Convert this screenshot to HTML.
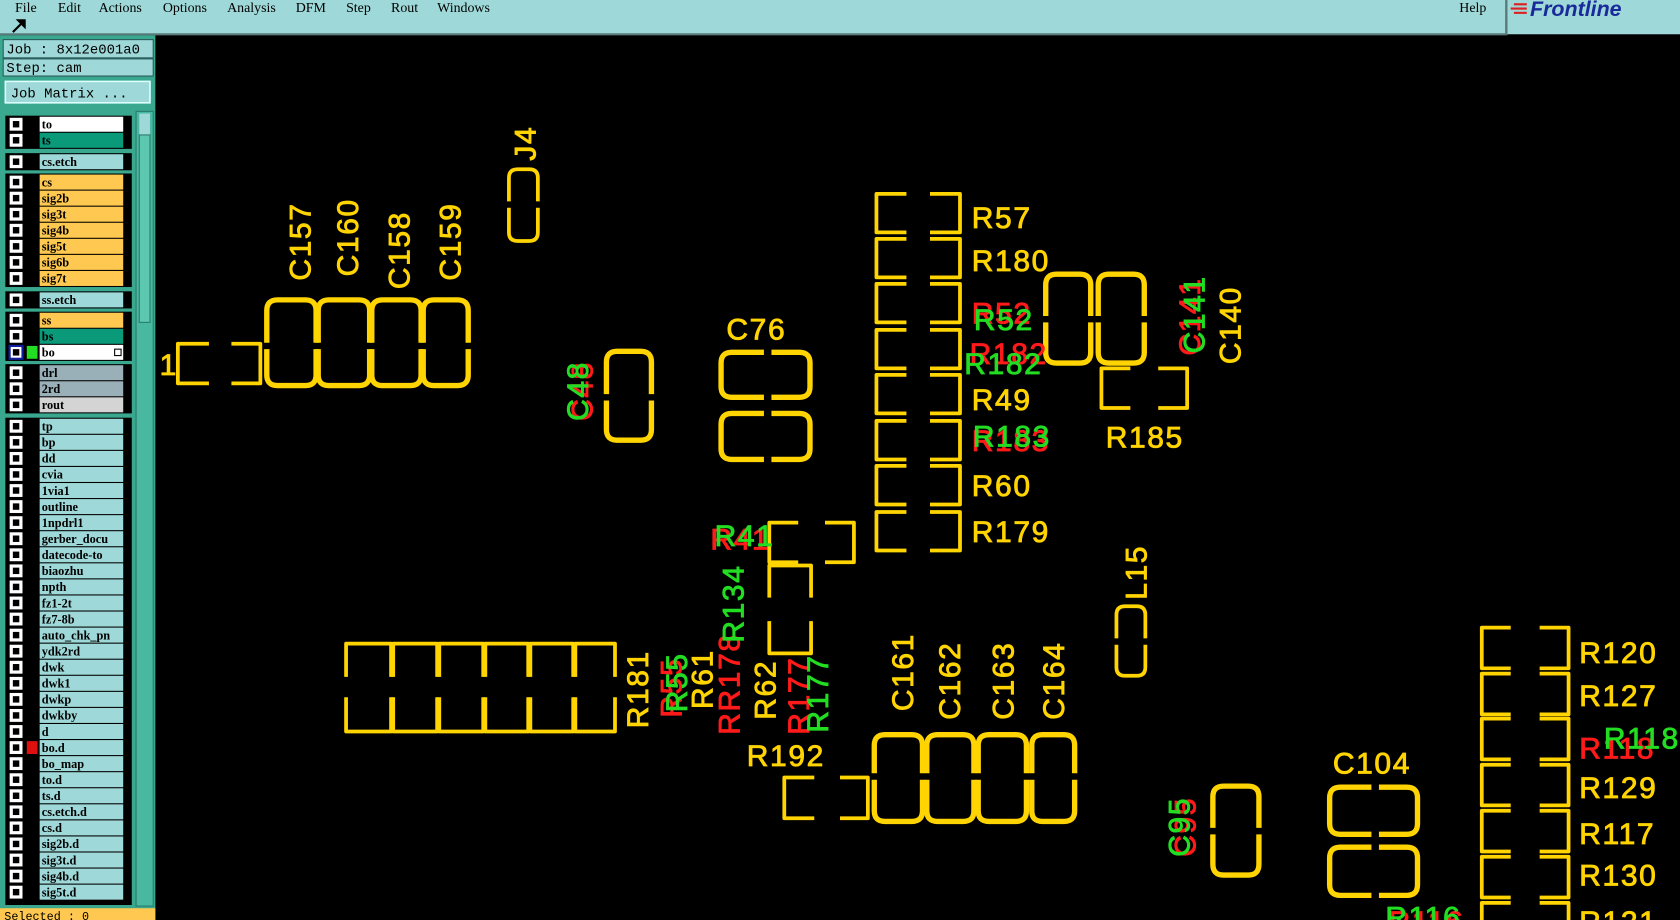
<!DOCTYPE html>
<html><head><meta charset="utf-8"><style>
html,body{margin:0;padding:0;background:#000;overflow:hidden}
svg{display:block}
.y{fill:none;stroke:#ffd400;stroke-width:3.5;stroke-linejoin:round}
.c{fill:none;stroke:#ffd400;stroke-width:5;stroke-linejoin:round}
.t{font-family:"Liberation Sans",sans-serif;font-size:28px;letter-spacing:1.5px;stroke-width:0.8px}
.m{font-family:"Liberation Serif",serif;font-size:13px;fill:#000}
.l{font-family:"Liberation Serif",serif;font-size:11.5px;font-weight:bold;fill:#000}
.cb{fill:#fff}
.ci{fill:#000}
.lb{fill:#9ed8d8}
</style></head><body>
<svg width="1680" height="920" viewBox="0 0 1568 859" preserveAspectRatio="none" xmlns="http://www.w3.org/2000/svg">
<defs>
<g id="box"><rect x="9" y="-6" width="12" height="12" fill="#fff"/><rect x="12" y="-3" width="6" height="6" fill="#000"/></g>
</defs>
<rect width="1568" height="859" fill="#000"/>
<!-- menu -->
<rect x="0" y="0" width="1405" height="32" fill="#9ed8d8"/>
<line x1="0" y1="32" x2="1405" y2="32" stroke="#5a7a7a" stroke-width="2"/>
<rect x="1407" y="0" width="161" height="32" fill="#9ed8d8"/>
<line x1="1406" y1="0" x2="1406" y2="33" stroke="#5a7a7a" stroke-width="2"/>
<g class="m">
<text x="14" y="11">File</text><text x="54" y="11">Edit</text><text x="92" y="11">Actions</text><text x="152" y="11">Options</text><text x="212" y="11">Analysis</text><text x="276" y="11">DFM</text><text x="323" y="11">Step</text><text x="365" y="11">Rout</text><text x="408" y="11">Windows</text><text x="1362" y="11">Help</text>
</g>
<path d="M12 30 L22 20 M17 19 L23 19 L23 25 Z" stroke="#000" stroke-width="2" fill="#000"/>
<g fill="#e02020"><rect x="1413" y="3" width="12" height="2"/><rect x="1410" y="7" width="15" height="2"/><rect x="1413" y="11" width="12" height="2"/></g>
<text x="1428" y="15" font-family="Liberation Sans,sans-serif" font-size="20" font-weight="bold" font-style="italic" fill="#1a2a9a">Frontline</text>
<!-- left panel -->
<rect x="0" y="33" width="145" height="826" fill="#3aa88e"/>
<rect x="3" y="37" width="140" height="17" fill="#9ed8d8" stroke="#2a5a5a"/>
<rect x="3" y="55" width="140" height="16" fill="#9ed8d8" stroke="#2a5a5a"/>
<text x="6" y="50" font-family="Liberation Mono,monospace" font-size="13" fill="#000">Job : 8x12e001a0</text>
<text x="6" y="67" font-family="Liberation Mono,monospace" font-size="13" fill="#000">Step: cam</text>
<rect x="5" y="76" width="135" height="20" fill="#9ed8d8" stroke="#dff" stroke-width="1.5"/>
<text x="10" y="91" font-family="Liberation Mono,monospace" font-size="13" fill="#000">Job Matrix ...</text>
<rect x="127" y="104" width="16" height="742" fill="#48b8a0" stroke="#2a7a6a"/>
<rect x="130" y="106" width="10" height="20" fill="#9ed8d8"/>
<rect x="130" y="126" width="10" height="175" fill="#5cc8b0" stroke="#2a7a6a"/>
<g fill="#000">
<rect x="5" y="108" width="118" height="31"/><rect x="5" y="143" width="118" height="16"/><rect x="5" y="162" width="118" height="106"/><rect x="5" y="272" width="118" height="16"/><rect x="5" y="291" width="118" height="46"/><rect x="5" y="340" width="118" height="46"/><rect x="5" y="390" width="118" height="455"/>
</g>
<!-- upper rows -->
<use href="#box" y="116"/><use href="#box" y="131"/><use href="#box" y="151"/><use href="#box" y="170"/><use href="#box" y="185"/><use href="#box" y="200"/><use href="#box" y="215"/><use href="#box" y="230"/><use href="#box" y="245"/><use href="#box" y="260"/><use href="#box" y="280"/><use href="#box" y="299"/><use href="#box" y="314"/><use href="#box" y="348"/><use href="#box" y="363"/><use href="#box" y="378"/>
<rect x="9" y="323" width="12" height="12" fill="#fff" stroke="#1020a0" stroke-width="2"/><rect x="12" y="326" width="6" height="6" fill="#000"/>
<rect x="25" y="323" width="10" height="12" fill="#22dd22"/>
<g fill="#ffc850"><rect x="37" y="163" width="78" height="14"/><rect x="37" y="178" width="78" height="14"/><rect x="37" y="193" width="78" height="14"/><rect x="37" y="208" width="78" height="14"/><rect x="37" y="223" width="78" height="14"/><rect x="37" y="238" width="78" height="14"/><rect x="37" y="253" width="78" height="14"/><rect x="37" y="292" width="78" height="14"/></g>
<rect x="37" y="109" width="78" height="14" fill="#fff"/>
<rect x="37" y="124" width="78" height="14" fill="#0a9a7a"/>
<rect x="37" y="307" width="78" height="14" fill="#0a9a7a"/>
<rect x="37" y="322" width="78" height="14" fill="#fff"/>
<rect x="37" y="144" width="78" height="14" fill="#9ed8d8"/>
<rect x="37" y="273" width="78" height="14" fill="#9ed8d8"/>
<rect x="37" y="341" width="78" height="14" fill="#9ab0b8"/>
<rect x="37" y="356" width="78" height="14" fill="#9ab0b8"/>
<rect x="37" y="371" width="78" height="14" fill="#d4d4d4"/>
<g class="l">
<text x="39" y="120">to</text><text x="39" y="135">ts</text><text x="39" y="155">cs.etch</text><text x="39" y="174">cs</text><text x="39" y="189">sig2b</text><text x="39" y="204">sig3t</text><text x="39" y="219">sig4b</text><text x="39" y="234">sig5t</text><text x="39" y="249">sig6b</text><text x="39" y="264">sig7t</text><text x="39" y="284">ss.etch</text><text x="39" y="303">ss</text><text x="39" y="318">bs</text><text x="39" y="333">bo</text><text x="39" y="352">drl</text><text x="39" y="367">2rd</text><text x="39" y="382">rout</text>
</g>
<!-- lower rows -->
<g>
<use href="#box" y="398"/><use href="#box" y="413"/><use href="#box" y="428"/><use href="#box" y="443"/><use href="#box" y="458"/><use href="#box" y="473"/><use href="#box" y="488"/><use href="#box" y="503"/><use href="#box" y="518"/><use href="#box" y="533"/><use href="#box" y="548"/><use href="#box" y="563"/><use href="#box" y="578"/><use href="#box" y="593"/><use href="#box" y="608"/><use href="#box" y="623"/><use href="#box" y="638"/><use href="#box" y="653"/><use href="#box" y="668"/><use href="#box" y="683"/><use href="#box" y="698"/><use href="#box" y="713"/><use href="#box" y="728"/><use href="#box" y="743"/><use href="#box" y="758"/><use href="#box" y="773"/><use href="#box" y="788"/><use href="#box" y="803"/><use href="#box" y="818"/><use href="#box" y="833"/>
</g>
<g class="lb">
<rect x="37" y="391" width="78" height="14"/><rect x="37" y="406" width="78" height="14"/><rect x="37" y="421" width="78" height="14"/><rect x="37" y="436" width="78" height="14"/><rect x="37" y="451" width="78" height="14"/><rect x="37" y="466" width="78" height="14"/><rect x="37" y="481" width="78" height="14"/><rect x="37" y="496" width="78" height="14"/><rect x="37" y="511" width="78" height="14"/><rect x="37" y="526" width="78" height="14"/><rect x="37" y="541" width="78" height="14"/><rect x="37" y="556" width="78" height="14"/><rect x="37" y="571" width="78" height="14"/><rect x="37" y="586" width="78" height="14"/><rect x="37" y="601" width="78" height="14"/><rect x="37" y="616" width="78" height="14"/><rect x="37" y="631" width="78" height="14"/><rect x="37" y="646" width="78" height="14"/><rect x="37" y="661" width="78" height="14"/><rect x="37" y="676" width="78" height="14"/><rect x="37" y="691" width="78" height="14"/><rect x="37" y="706" width="78" height="14"/><rect x="37" y="721" width="78" height="14"/><rect x="37" y="736" width="78" height="14"/><rect x="37" y="751" width="78" height="14"/><rect x="37" y="766" width="78" height="14"/><rect x="37" y="781" width="78" height="14"/><rect x="37" y="796" width="78" height="14"/><rect x="37" y="811" width="78" height="14"/><rect x="37" y="826" width="78" height="14"/>
</g>
<rect x="25" y="692" width="10" height="12" fill="#e01010"/>
<g class="l">
<text x="39" y="402">tp</text><text x="39" y="417">bp</text><text x="39" y="432">dd</text><text x="39" y="447">cvia</text><text x="39" y="462">1via1</text><text x="39" y="477">outline</text><text x="39" y="492">1npdrl1</text><text x="39" y="507">gerber_docu</text><text x="39" y="522">datecode-to</text><text x="39" y="537">biaozhu</text><text x="39" y="552">npth</text><text x="39" y="567">fz1-2t</text><text x="39" y="582">fz7-8b</text><text x="39" y="597">auto_chk_pn</text><text x="39" y="612">ydk2rd</text><text x="39" y="627">dwk</text><text x="39" y="642">dwk1</text><text x="39" y="657">dwkp</text><text x="39" y="672">dwkby</text><text x="39" y="687">d</text><text x="39" y="702">bo.d</text><text x="39" y="717">bo_map</text><text x="39" y="732">to.d</text><text x="39" y="747">ts.d</text><text x="39" y="762">cs.etch.d</text><text x="39" y="777">cs.d</text><text x="39" y="792">sig2b.d</text><text x="39" y="807">sig3t.d</text><text x="39" y="822">sig4b.d</text><text x="39" y="837">sig5t.d</text>
</g>
<rect x="0" y="848" width="145" height="11" fill="#ffc850"/>
<text x="4" y="859" font-family="Liberation Mono,monospace" font-size="11" fill="#000">Selected : 0</text>
<!-- PCB shapes -->
<g class="c">
<path d="M249 320 V290 Q249 280 259 280 H285 Q295 280 295 290 V320 M249 326 V350 Q249 360 259 360 H285 Q295 360 295 350 V326"/>
<path d="M297 320 V290 Q297 280 307 280 H335 Q345 280 345 290 V320 M297 326 V350 Q297 360 307 360 H335 Q345 360 345 350 V326"/>
<path d="M347 320 V290 Q347 280 357 280 H383 Q393 280 393 290 V320 M347 326 V350 Q347 360 357 360 H383 Q393 360 393 350 V326"/>
<path d="M395 320 V290 Q395 280 405 280 H427 Q437 280 437 290 V320 M395 326 V350 Q395 360 405 360 H427 Q437 360 437 350 V326"/>
<path d="M566 368 V338 Q566 328 576 328 H598 Q608 328 608 338 V368 M566 374 V401 Q566 411 576 411 H598 Q608 411 608 401 V374"/>
<path d="M976 295 V266 Q976 256 986 256 H1008 Q1018 256 1018 266 V295 M976 301 V329 Q976 339 986 339 H1008 Q1018 339 1018 329 V301"/>
<path d="M1025 295 V266 Q1025 256 1035 256 H1058 Q1068 256 1068 266 V295 M1025 301 V329 Q1025 339 1035 339 H1058 Q1068 339 1068 329 V301"/>
<path d="M816 722 V696 Q816 686 826 686 H851 Q861 686 861 696 V722 M816 728 V757 Q816 767 826 767 H851 Q861 767 861 757 V728"/>
<path d="M865 722 V696 Q865 686 875 686 H899 Q909 686 909 696 V722 M865 728 V757 Q865 767 875 767 H899 Q909 767 909 757 V728"/>
<path d="M913 722 V696 Q913 686 923 686 H948 Q958 686 958 696 V722 M913 728 V757 Q913 767 923 767 H948 Q958 767 958 757 V728"/>
<path d="M963 722 V696 Q963 686 973 686 H993 Q1003 686 1003 696 V722 M963 728 V757 Q963 767 973 767 H993 Q1003 767 1003 757 V728"/>
<path d="M1132 773 V744 Q1132 734 1142 734 H1165 Q1175 734 1175 744 V773 M1132 779 V807 Q1132 817 1142 817 H1165 Q1175 817 1175 807 V779"/>
<path d="M713 329 H683 Q673 329 673 339 V361 Q673 371 683 371 H713 M720 329 H746 Q756 329 756 339 V361 Q756 371 746 371 H720"/>
<path d="M713 386 H683 Q673 386 673 396 V419 Q673 429 683 429 H713 M720 386 H746 Q756 386 756 396 V419 Q756 429 746 429 H720"/>
<path d="M1280 735 H1251 Q1241 735 1241 745 V769 Q1241 779 1251 779 H1280 M1287 735 H1313 Q1323 735 1323 745 V769 Q1323 779 1313 779 H1287"/>
<path d="M1280 791 H1251 Q1241 791 1241 801 V826 Q1241 836 1251 836 H1280 M1287 791 H1313 Q1323 791 1323 801 V826 Q1323 836 1313 836 H1287"/>
</g>
<g class="y">
<path d="M475 188 V166 Q475 158 483 158 H494 Q502 158 502 166 V188 M475 194 V217 Q475 225 483 225 H494 Q502 225 502 217 V194"/>
<path d="M1042 596 V574 Q1042 566 1050 566 H1061 Q1069 566 1069 574 V596 M1042 602 V623 Q1042 631 1050 631 H1061 Q1069 631 1069 623 V602"/>
<path d="M846 181H818V217H846M868 181H896V217H868"/>
<path d="M846 223H818V259H846M868 223H896V259H868"/>
<path d="M846 265H818V301H846M868 265H896V301H868"/>
<path d="M846 308H818V344H846M868 308H896V344H868"/>
<path d="M846 350H818V386H846M868 350H896V386H868"/>
<path d="M846 393H818V429H846M868 393H896V429H868"/>
<path d="M846 435H818V471H846M868 435H896V471H868"/>
<path d="M846 478H818V514H846M868 478H896V514H868"/>
<path d="M1055 344H1028V381H1055M1081 344H1108V381H1081"/>
<path d="M745 488H718V525H745M770 488H797V525H770"/>
<path d="M760 726H732V764H760M784 726H810V764H784"/>
<path d="M195 321H166V358H195M216 321H243V358H216"/>
<path d="M1410 586H1383V624H1410M1437 586H1464V624H1437"/>
<path d="M1410 629H1383V667H1410M1437 629H1464V667H1437"/>
<path d="M1410 671H1383V709H1410M1437 671H1464V709H1437"/>
<path d="M1410 714H1383V752H1410M1437 714H1464V752H1437"/>
<path d="M1410 757H1383V795H1410M1437 757H1464V795H1437"/>
<path d="M1410 800H1383V838H1410M1437 800H1464V838H1437"/>
<path d="M1410 843H1383V870M1437 843H1464V870"/>
<path d="M323 632V601H365V632M323 651V683H365V651"/>
<path d="M367 632V601H408V632M367 651V683H408V651"/>
<path d="M410 632V601H451V632M410 651V683H451V651"/>
<path d="M453 632V601H493V632M453 651V683H493V651"/>
<path d="M495 632V601H535V632M495 651V683H535V651"/>
<path d="M537 632V601H574V632M537 651V683H574V651"/>
<path d="M718 558V528H757V558M718 580V610H757V580"/>
</g>
<!-- labels -->
<g class="t" fill="#ffd400" stroke="#ffd400">
<text x="907" y="213">R57</text><text x="907" y="253">R180</text>
<text x="907" y="383">R49</text><text x="907" y="463">R60</text><text x="907" y="506">R179</text>
<text x="1032" y="418">R185</text><text x="678" y="317">C76</text><text x="697" y="715">R192</text><text x="1244" y="722">C104</text>
<text x="1474" y="619">R120</text><text x="1474" y="659">R127</text><text x="1474" y="745">R129</text><text x="1474" y="788">R117</text><text x="1474" y="827">R130</text><text x="1474" y="870">R121</text>
<text x="149" y="350">1</text>
<text transform="translate(290,262) rotate(-90)">C157</text>
<text transform="translate(334,258) rotate(-90)">C160</text>
<text transform="translate(382,270) rotate(-90)">C158</text>
<text transform="translate(430,262) rotate(-90)">C159</text>
<text transform="translate(500,150) rotate(-90)">J4</text>
<text transform="translate(1158,340) rotate(-90)">C140</text>
<text transform="translate(1070,560) rotate(-90)">L15</text>
<text transform="translate(852,664) rotate(-90)">C161</text>
<text transform="translate(896,672) rotate(-90)">C162</text>
<text transform="translate(946,672) rotate(-90)">C163</text>
<text transform="translate(993,672) rotate(-90)">C164</text>
<text transform="translate(605,680) rotate(-90)">R181</text>
<text transform="translate(665,662) rotate(-90)">R61</text>
<text transform="translate(724,672) rotate(-90)">R62</text>
</g>
<g class="t" fill="#ff1a1a" stroke="#ff1a1a">
<text x="907" y="302">R52</text><text x="905" y="340">R182</text><text x="907" y="421">R183</text>
<text x="663" y="513">R41</text><text x="1474" y="708">R118</text>
<text transform="translate(553,393) rotate(-90)">C48</text>
<text transform="translate(1120,332) rotate(-90)">C141</text>
<text transform="translate(636,670) rotate(-90)">R55</text>
<text transform="translate(690,686) rotate(-90)">RR178</text>
<text transform="translate(755,686) rotate(-90)">R177</text>
<text transform="translate(1116,800) rotate(-90)">C95</text>
<text x="1296" y="870">R116</text>
</g>
<g class="t" fill="#22dd22" stroke="#22dd22">
<text x="909" y="308">R52</text><text x="900" y="349">R182</text><text x="908" y="417">R183</text>
<text x="667" y="510">R41</text><text x="1497" y="699">R118</text>
<text transform="translate(549,393) rotate(-90)">C48</text>
<text transform="translate(1124,330) rotate(-90)">C141</text>
<text transform="translate(641,665) rotate(-90)">R55</text>
<text transform="translate(694,600) rotate(-90)">R134</text>
<text transform="translate(773,684) rotate(-90)">R177</text>
<text transform="translate(1110,800) rotate(-90)">C95</text>
<text x="1293" y="866">R116</text>
</g>
<rect x="107" y="326" width="6" height="6" fill="none" stroke="#000"/>
</svg>
</body></html>
